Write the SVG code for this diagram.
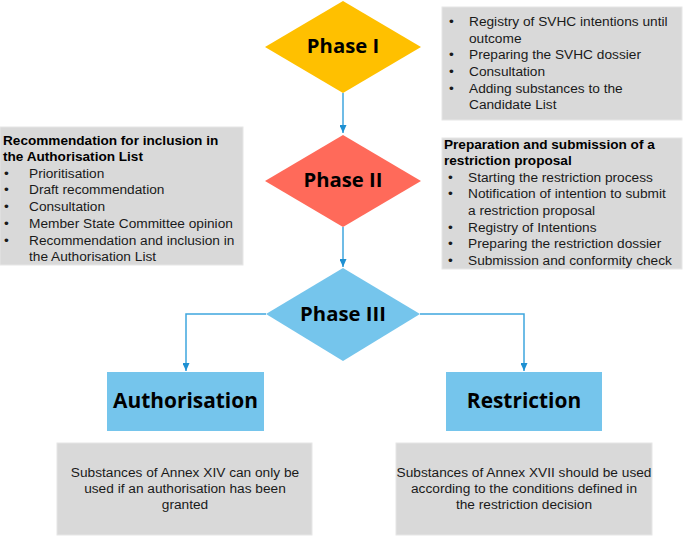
<svg xmlns="http://www.w3.org/2000/svg" width="685" height="536" viewBox="0 0 685 536">
<defs>
<style>
.box{fill:#D9D9D9;stroke:#E6E6E6;stroke-width:1}
.t{font-family:"Liberation Sans",Arial,sans-serif;font-size:13.7px;fill:#1a1a1a}
.b{font-size:13.6px;font-weight:bold;fill:#000}
.ph{font-family:"Open Sans","Noto Sans","DejaVu Sans",sans-serif;font-size:20.3px;font-weight:bold;fill:#000;text-anchor:middle}
.c{text-anchor:middle}
.con{fill:none;stroke:#3FA6DE;stroke-width:1.5}
</style>
<marker id="ah" markerWidth="8" markerHeight="7" refX="8" refY="3.5" orient="auto" markerUnits="userSpaceOnUse">
<path d="M0,0 L8,3.5 L0,7 Z" fill="#1E90D2"/>
</marker>
</defs>
<rect width="685" height="536" fill="#fff"/>

<g id="connectors">
<path class="con" d="M343,93 V133" marker-end="url(#ah)"/>
<path class="con" d="M343,227 V267" marker-end="url(#ah)"/>
<path class="con" d="M266,314 H186 V371" marker-end="url(#ah)"/>
<path class="con" d="M420,314 H524 V371" marker-end="url(#ah)"/>
</g>

<g id="phase1">
<polygon points="343,1 421,47 343,93 265,47" fill="#FFC000"/>
<text class="ph" x="343" y="53">Phase I</text>
</g>

<g id="phase2">
<polygon points="343,135 421,181 343,227 265,181" fill="#FF6A5A"/>
<text class="ph" x="343" y="187">Phase II</text>
</g>

<g id="phase3">
<polygon points="343,268 420,314 343,361 266,314" fill="#75C5EC"/>
<text class="ph" x="343" y="321">Phase III</text>
</g>

<g id="authorisation">
<rect x="107" y="372" width="157" height="59" fill="#75C5EC"/>
<text class="ph" x="185.5" y="408" style="font-size:20.9px">Authorisation</text>
</g>

<g id="restriction">
<rect x="446" y="372" width="156" height="59" fill="#75C5EC"/>
<text class="ph" x="524" y="408" style="font-size:20.9px">Restriction</text>
</g>

<g id="phase1-notes">
<rect class="box" x="442" y="7" width="240" height="113"/>
<text class="t"><tspan x="449" y="26">•</tspan><tspan x="469" y="26">Registry of SVHC intentions until</tspan><tspan x="469" y="43">outcome</tspan><tspan x="449" y="59">•</tspan><tspan x="469" y="59">Preparing the SVHC dossier</tspan><tspan x="449" y="76">•</tspan><tspan x="469" y="76">Consultation</tspan><tspan x="449" y="93">•</tspan><tspan x="469" y="93">Adding substances to the</tspan><tspan x="469" y="109">Candidate List</tspan></text>
</g>

<g id="authorisation-list-notes">
<rect class="box" x="0" y="127" width="243" height="138"/>
<text class="t"><tspan class="b" x="3" y="145">Recommendation for inclusion in</tspan><tspan class="b" x="3" y="161">the Authorisation List</tspan><tspan x="4" y="178">•</tspan><tspan x="29" y="178">Prioritisation</tspan><tspan x="4" y="194">•</tspan><tspan x="29" y="194">Draft recommendation</tspan><tspan x="4" y="211">•</tspan><tspan x="29" y="211">Consultation</tspan><tspan x="4" y="228">•</tspan><tspan x="29" y="228">Member State Committee opinion</tspan><tspan x="4" y="245">•</tspan><tspan x="29" y="245">Recommendation and inclusion in</tspan><tspan x="29" y="261">the Authorisation List</tspan></text>
</g>

<g id="restriction-proposal-notes">
<rect class="box" x="442" y="138" width="240" height="131"/>
<text class="t"><tspan class="b" x="444" y="149">Preparation and submission of a</tspan><tspan class="b" x="444" y="165">restriction proposal</tspan><tspan x="448" y="182">•</tspan><tspan x="468" y="182">Starting the restriction process</tspan><tspan x="448" y="198">•</tspan><tspan x="468" y="198">Notification of intention to submit</tspan><tspan x="468" y="215">a restriction proposal</tspan><tspan x="448" y="232">•</tspan><tspan x="468" y="232">Registry of Intentions</tspan><tspan x="448" y="248">•</tspan><tspan x="468" y="248">Preparing the restriction dossier</tspan><tspan x="448" y="265">•</tspan><tspan x="468" y="265">Submission and conformity check</tspan></text>
</g>

<g id="authorisation-note">
<rect class="box" x="57" y="443" width="255" height="92"/>
<text class="t c"><tspan x="185" y="477">Substances of Annex XIV can only be</tspan><tspan x="185" y="493">used if an authorisation has been</tspan><tspan x="185" y="509">granted</tspan></text>
</g>

<g id="restriction-note">
<rect class="box" x="396" y="443" width="256" height="92"/>
<text class="t c"><tspan x="524" y="477">Substances of Annex XVII should be used</tspan><tspan x="524" y="493">according to the conditions defined in</tspan><tspan x="524" y="509">the restriction decision</tspan></text>
</g>
</svg>
